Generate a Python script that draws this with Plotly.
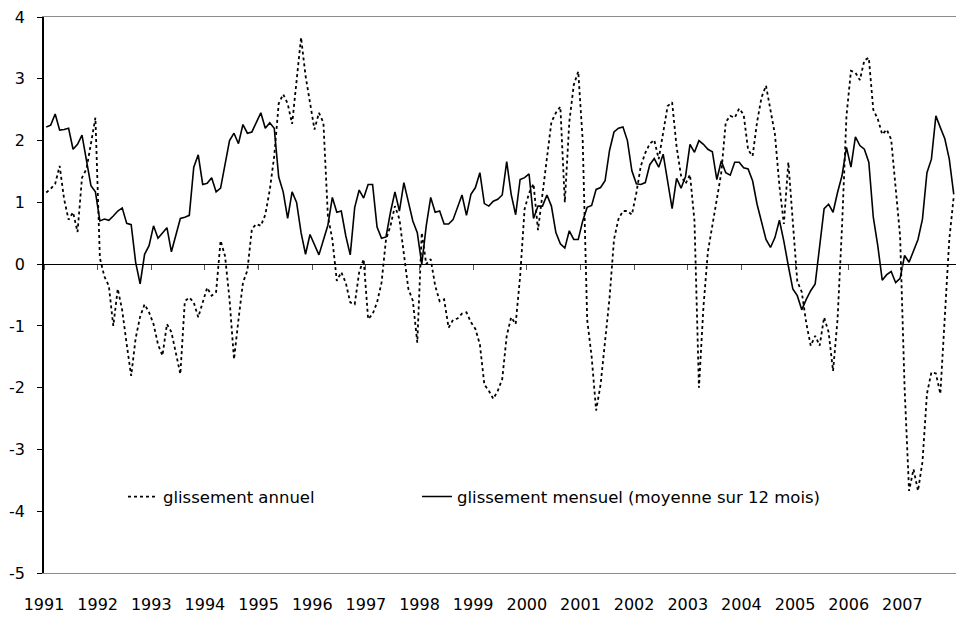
import plotly.graph_objects as go

# Monthly observations, Jan 1991 .. Dec 2007 (204 months)
years = [str(y) for y in range(1991, 2008)]
y_ticks = [-5, -4, -3, -2, -1, 0, 1, 2, 3, 4]
y_tick_text = ["-5", "-4", "-3", "-2", "-1", "0", "1", "2", "3", "4"]

glissement_annuel = [
    1.16, 1.22, 1.3, 1.59, 1.05, 0.72, 0.84, 0.52, 1.4, 1.54, 1.95, 2.37,
    0.1, -0.2, -0.35, -1.0, -0.4, -0.75, -1.3, -1.81, -1.2, -0.85, -0.65, -0.78,
    -0.97, -1.3, -1.48, -0.97, -1.1, -1.43, -1.78, -0.6, -0.54, -0.62, -0.86, -0.62,
    -0.38, -0.51, -0.45, 0.38, 0.13, -0.57, -1.54, -0.9, -0.3, -0.1, 0.57, 0.65,
    0.62, 0.8, 1.2, 1.75, 2.6, 2.75, 2.6, 2.27, 2.95, 3.67, 3.05, 2.6,
    2.18, 2.45, 2.29, 0.78, 0.4, -0.27, -0.13, -0.3, -0.62, -0.65, -0.13, 0.08,
    -0.89, -0.81, -0.62, -0.3, 0.4, 0.62, 0.94, 0.73, 0.2, -0.4, -0.59, -1.27,
    0.51, 0.0, 0.08, -0.35, -0.6, -0.57, -1.03, -0.9, -0.88, -0.8, -0.78, -0.94,
    -1.05, -1.3, -1.95, -2.05, -2.18, -2.05, -1.86, -1.16, -0.86, -0.97, -0.2, 0.89,
    1.15, 1.3, 0.55, 1.15, 1.8, 2.3, 2.45, 2.55, 1.0, 2.3, 2.9, 3.12,
    2.0, -0.9, -1.5, -2.37, -1.95, -1.3, -0.55, 0.4, 0.73, 0.86, 0.86, 0.8,
    1.15, 1.59, 1.8, 1.95, 2.01, 1.7, 2.1, 2.56, 2.62, 1.9, 1.43, 1.3,
    1.45, 0.7, -2.0, -0.7, 0.2, 0.6, 1.05, 1.48, 2.3, 2.4, 2.37, 2.52,
    2.42, 1.85, 1.75, 2.3, 2.7, 2.89, 2.5, 2.1, 1.27, 0.65, 1.65, 0.6,
    -0.28, -0.45, -0.95, -1.32, -1.16, -1.32, -0.86, -1.1, -1.73, -0.9, 0.6, 2.4,
    3.13, 3.1, 2.98, 3.3, 3.34, 2.5, 2.35, 2.1, 2.18, 2.02, 1.2, 0.45,
    -2.0, -3.67, -3.32, -3.67, -3.2, -2.1, -1.75, -1.77, -2.1, -0.8, 0.4, 1.1,
]

glissement_mensuel = [
    2.22, 2.25, 2.43, 2.17, 2.18, 2.2, 1.86, 1.94, 2.09, 1.7, 1.27, 1.17,
    0.7, 0.73, 0.71, 0.78, 0.86, 0.91, 0.66, 0.64, 0.03, -0.32, 0.16, 0.3,
    0.62, 0.42, 0.51, 0.59, 0.2, 0.46, 0.74, 0.76, 0.79, 1.57, 1.77, 1.29,
    1.31, 1.4, 1.17, 1.23, 1.59, 2.0, 2.12, 1.95, 2.26, 2.12, 2.14, 2.31,
    2.45, 2.2, 2.29, 2.2, 1.41, 1.17, 0.74, 1.17, 1.0, 0.51, 0.16, 0.48,
    0.32, 0.15, 0.39, 0.63, 1.08, 0.84, 0.86, 0.46, 0.15, 0.92, 1.2, 1.07,
    1.29, 1.29, 0.6, 0.42, 0.44, 0.84, 1.17, 0.86, 1.32, 1.02, 0.7, 0.51,
    0.0, 0.62, 1.08, 0.84, 0.86, 0.65, 0.65, 0.72, 0.92, 1.12, 0.79, 1.13,
    1.24, 1.48, 0.98, 0.94, 1.02, 1.05, 1.12, 1.66, 1.13, 0.8, 1.37, 1.4,
    1.46, 0.74, 0.94, 0.94, 1.12, 0.94, 0.51, 0.33, 0.26, 0.54, 0.4, 0.4,
    0.7, 0.92, 0.95, 1.21, 1.24, 1.35, 1.84, 2.14, 2.2, 2.22, 2.0, 1.51,
    1.3, 1.29, 1.32, 1.61, 1.71, 1.57, 1.78, 1.35, 0.9, 1.39, 1.23, 1.42,
    1.94, 1.81, 2.0, 1.94, 1.86, 1.82, 1.37, 1.67, 1.48, 1.44, 1.65, 1.65,
    1.56, 1.54, 1.35, 0.97, 0.7, 0.4, 0.27, 0.43, 0.71, 0.37, -0.03, -0.4,
    -0.51, -0.74, -0.57, -0.43, -0.32, 0.3, 0.9, 0.97, 0.84, 1.16, 1.43, 1.89,
    1.57, 2.06, 1.92, 1.86, 1.65, 0.76, 0.3, -0.26, -0.17, -0.12, -0.3, -0.23,
    0.14, 0.03, 0.22, 0.4, 0.73, 1.48, 1.7, 2.4, 2.21, 2.03, 1.7, 1.13,
]

months = list(range(len(glissement_mensuel)))
year_ticks = [12 * i - 0.5 for i in range(len(years))]

FONT = "DejaVu Sans, Arial, sans-serif"
FS = 16

fig = go.Figure()
fig.add_trace(go.Scatter(
    x=months, y=glissement_annuel, mode="lines",
    name="glissement annuel", legend="legend",
    line=dict(color="black", width=1.8, dash="3px,3px"),
))
fig.add_trace(go.Scatter(
    x=months, y=glissement_mensuel, mode="lines",
    name="glissement mensuel (moyenne sur 12 mois)", legend="legend2",
    line=dict(color="black", width=1.6),
))
# invisible helper so that the zero-crossing axis (x2) is drawn
fig.add_trace(go.Scatter(
    x=[months[0]], y=[glissement_mensuel[0]], xaxis="x2",
    mode="markers", marker=dict(opacity=0), showlegend=False, hoverinfo="skip",
))

fig.update_layout(
    width=956, height=619,
    margin=dict(l=44, r=0, t=17, b=46),
    paper_bgcolor="white", plot_bgcolor="white",
    font=dict(family=FONT, size=FS, color="black"),
    showlegend=True,
    legend=dict(
        orientation="h", x=0.0866, xanchor="left", y=0.137, yanchor="middle",
        bgcolor="rgba(0,0,0,0)", font=dict(size=16.5),
    ),
    legend2=dict(
        orientation="h", x=0.409, xanchor="left", y=0.137, yanchor="middle",
        bgcolor="rgba(0,0,0,0)", font=dict(size=16.5),
    ),
    xaxis=dict(
        range=[-0.5, 203.5], showgrid=False, zeroline=False,
        showline=True, linecolor="#8c8c8c", linewidth=1.2, mirror=True,
        tickmode="array", tickvals=year_ticks, ticktext=years,
        ticks="", ticklabelstandoff=17,
        tickfont=dict(size=FS),
    ),
    xaxis2=dict(
        matches="x", overlaying="x", anchor="free", position=5 / 9,
        side="bottom", showgrid=False, zeroline=False,
        showline=True, linecolor="black", linewidth=1,
        tickmode="array", tickvals=year_ticks,
        ticks="outside", ticklen=5, tickcolor="#555", tickwidth=1,
        showticklabels=False,
    ),
    yaxis=dict(
        range=[-5, 4.001], showgrid=False, zeroline=False,
        tickmode="array", tickvals=y_ticks, ticktext=y_tick_text,
        showline=True, linecolor="black", linewidth=1.5,
        ticks="outside", ticklen=5, tickcolor="black",
        ticklabelstandoff=9, tickfont=dict(size=FS),
    ),
)

fig.write_html(
    "out.html",
    config={"displayModeBar": False},
    post_script="document.body.style.margin='0';document.body.style.overflow='hidden';",
)
